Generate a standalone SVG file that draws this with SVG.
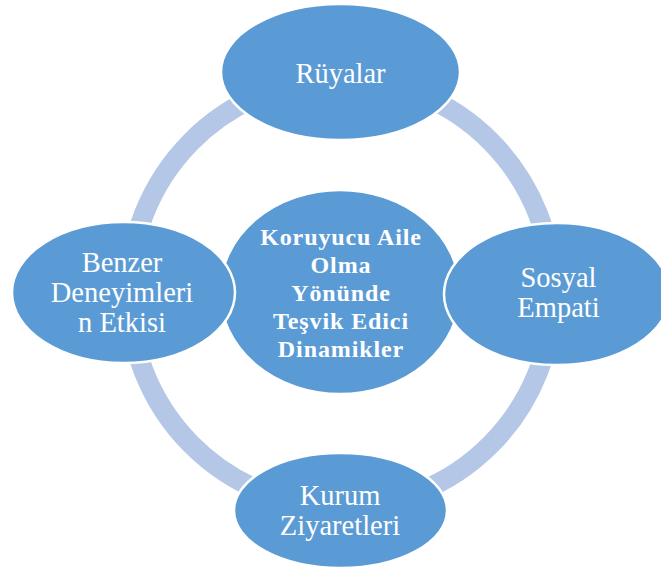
<svg xmlns="http://www.w3.org/2000/svg" width="661" height="571" viewBox="0 0 661 571">
<style>
.node{fill:#5b9bd5;stroke:#ffffff;stroke-width:2.5}
.t{font-family:"Liberation Serif","Times New Roman",serif;font-size:28.5px;fill:#ffffff;text-anchor:middle}
.b{font-family:"Liberation Serif","Times New Roman",serif;font-size:24px;letter-spacing:0.9px;font-weight:bold;fill:#ffffff;text-anchor:middle}
</style>
<rect width="661" height="571" fill="#ffffff"/>
<g id="connectors">
<ellipse cx="341" cy="293" rx="212" ry="214" fill="none" stroke="#b4c7e7" stroke-width="20"/>
</g>
<g id="center">
<ellipse class="node" cx="340" cy="292" rx="120" ry="102"/>
<text class="b" x="341" y="245">Koruyucu Aile</text>
<text class="b" x="341" y="273">Olma</text>
<text class="b" x="341" y="301">Yönünde</text>
<text class="b" x="341" y="329">Teşvik Edici</text>
<text class="b" x="341" y="357">Dinamikler</text>
</g>
<g id="ruyalar">
<ellipse class="node" cx="340.5" cy="72" rx="119.5" ry="68"/>
<text class="t" x="340.5" y="83">Rüyalar</text>
</g>
<g id="benzer">
<ellipse class="node" cx="123.5" cy="292.5" rx="111.5" ry="70.5"/>
<text class="t" x="122" y="272">Benzer</text>
<text class="t" x="122" y="302">Deneyimleri</text>
<text class="t" x="122" y="332">n Etkisi</text>
</g>
<g id="sosyal">
<ellipse class="node" cx="557" cy="294" rx="113" ry="71"/>
<text class="t" x="558.5" y="287">Sosyal</text>
<text class="t" x="558.5" y="317">Empati</text>
</g>
<g id="kurum">
<ellipse class="node" cx="340.5" cy="510.5" rx="106.5" ry="57.5"/>
<text class="t" x="340" y="505">Kurum</text>
<text class="t" x="340" y="535">Ziyaretleri</text>
</g>
</svg>
